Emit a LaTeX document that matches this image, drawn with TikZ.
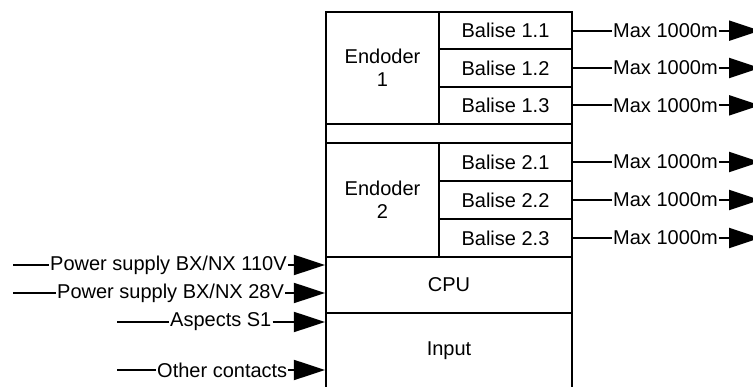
\documentclass[tikz,border=0pt]{standalone}
\usepackage{fontspec}
\setmainfont{Liberation Sans}
\usetikzlibrary{arrows.meta}
\tikzset{
	box/.style={draw, line width=2.2pt, inner sep=0pt, align=center},
	lbl/.style={inner sep=1pt, anchor=west},
	wire/.style={line width=2pt},
	feed/.style={wire, -{Triangle[length=31pt,width=20pt]}}
}
\begin{document}
\begin{tikzpicture}[x=1pt, y=-1pt, font=\fontsize{20}{23}\selectfont]
	\clip (0,0) rectangle (753,387);
	\node[box, minimum width=113pt, minimum height=112pt] at (382.5,68) (enc1) {Endoder\\1};
	\node[box, minimum width=133pt, minimum height=37.33pt] at (505.5,30.67) (b11) {Balise 1.1};
	\node[box, minimum width=133pt, minimum height=37.33pt] at (505.5,68) (b12) {Balise 1.2};
	\node[box, minimum width=133pt, minimum height=37.33pt] at (505.5,105.33) (b13) {Balise 1.3};
	\node[box, minimum width=246pt, minimum height=19pt] at (449,133.5) (gap) {};
	\node[box, minimum width=113pt, minimum height=114pt] at (382.5,200) (enc2) {Endoder\\2};
	\node[box, minimum width=133pt, minimum height=38pt] at (505.5,162) (b21) {Balise 2.1};
	\node[box, minimum width=133pt, minimum height=38pt] at (505.5,200) (b22) {Balise 2.2};
	\node[box, minimum width=133pt, minimum height=38pt] at (505.5,238) (b23) {Balise 2.3};
	\node[box, minimum width=246pt, minimum height=56pt] at (449,285) (cpu) {CPU};
	\node[box, minimum width=246pt, minimum height=76pt] at (449,351) (inp) {Input};
	\node[lbl] at (612,30.67) (m11) {Max 1000m};
	\node[lbl] at (612,68) (m12) {Max 1000m};
	\node[lbl] at (612,105.33) (m13) {Max 1000m};
	\node[lbl] at (612,162) (m21) {Max 1000m};
	\node[lbl] at (612,200) (m22) {Max 1000m};
	\node[lbl] at (612,238) (m23) {Max 1000m};
	\coordinate (t11) at (760,30.67);
	\coordinate (t12) at (760,68);
	\coordinate (t13) at (760,105.33);
	\coordinate (t21) at (760,162);
	\coordinate (t22) at (760,200);
	\coordinate (t23) at (760,238);
	\draw[wire] (b11.east) -- (m11.west);
	\draw[wire] (b12.east) -- (m12.west);
	\draw[wire] (b13.east) -- (m13.west);
	\draw[wire] (b21.east) -- (m21.west);
	\draw[wire] (b22.east) -- (m22.west);
	\draw[wire] (b23.east) -- (m23.west);
	\draw[feed] (m11.east) -- (t11);
	\draw[feed] (m12.east) -- (t12);
	\draw[feed] (m13.east) -- (t13);
	\draw[feed] (m21.east) -- (t21);
	\draw[feed] (m22.east) -- (t22);
	\draw[feed] (m23.east) -- (t23);
	\node[lbl] at (49,265) (p110) {Power supply BX/NX 110V};
	\node[lbl] at (56,293) (p28) {Power supply BX/NX 28V};
	\node[lbl] at (169,322) (asp) {Aspects S1};
	\node[lbl] at (156,370) (oth) {Other contacts};
	\coordinate (s110) at (13,265);
	\coordinate (s28) at (13,293);
	\coordinate (sasp) at (117,322);
	\coordinate (soth) at (117,370);
	\draw[wire] (s110) -- (p110.west);
	\draw[wire] (s28) -- (p28.west);
	\draw[wire] (sasp) -- (asp.west);
	\draw[wire] (soth) -- (oth.west);
	\draw[feed] (p110.east) -- (cpu.west |- p110.east);
	\draw[feed] (p28.east) -- (cpu.west |- p28.east);
	\draw[feed] (asp.east) -- (inp.west |- asp.east);
	\draw[feed] (oth.east) -- (inp.west |- oth.east);
\end{tikzpicture}
\end{document}
